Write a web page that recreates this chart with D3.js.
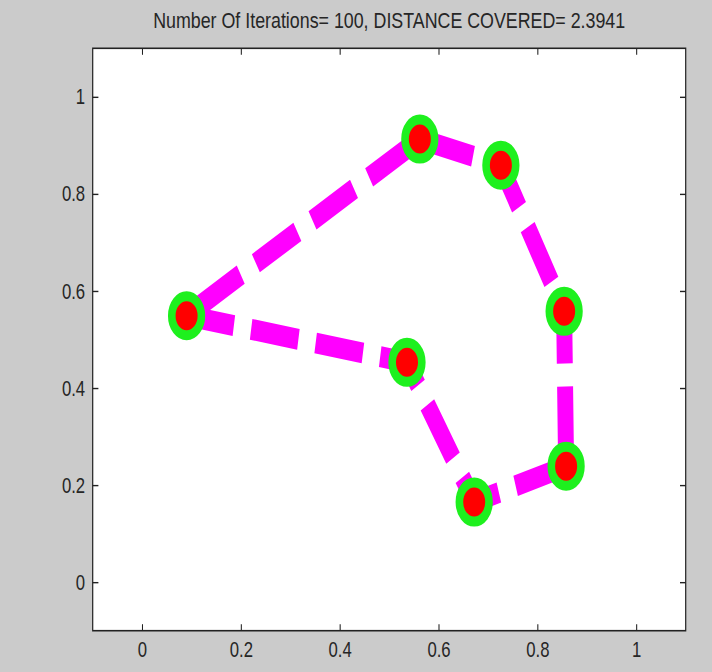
<!DOCTYPE html>
<html>
<head>
<meta charset="utf-8">
<script src="https://cdn.jsdelivr.net/npm/d3@7"></script>
<style>
	body { margin: 0; background: #cbcbcb; }
	svg  { display: block; }
</style>
</head>
<body>
<div id="tourDiv"></div>
<script>

// City coordinates:
var cityX     = [0.090, 0.562, 0.726, 0.854, 0.858, 0.672, 0.536];
var cityY     = [0.549, 0.913, 0.859, 0.558, 0.239, 0.165, 0.453];
// Order in which the tour visits the cities (closed loop):
var tourOrder = [0, 6, 5, 4, 3, 2, 1, 0];

var tickValues = [0, 0.2, 0.4, 0.6, 0.8, 1];
var axisDomain = [-0.1, 1.1];
var titleText  = "Number Of Iterations= 100, DISTANCE COVERED= 2.3941";

var TourViz = function(width, height) {

	// Constants

	// The whole figure looks squeezed horizontally,
	// so everything is drawn wide and then scaled in x:
	var SQUEEZE    = 0.76;
	// Axes box, in final page pixels:
	var BOX_LEFT   = 92.7;
	var BOX_RIGHT  = 685.7;
	var BOX_TOP    = 48.3;
	var BOX_BOTTOM = 630.7;

	var svg    = null;
	var plotG  = null;
	var xScale = null;
	var yScale = null;

	/*---------------------------
	| constructor
	-----------------*/

	var constructor = function() {

		svg = d3.select("#tourDiv").append("svg")
			.attr("width", width)
			.attr("height", height);

		svg.append("rect")
			.attr("width", width)
			.attr("height", height)
			.attr("fill", "#cbcbcb");

		plotG = svg.append("g")
			.attr("transform", `scale(${SQUEEZE},1)`);

		xScale = d3.scaleLinear()
			.domain(axisDomain)
			.range([BOX_LEFT / SQUEEZE, BOX_RIGHT / SQUEEZE]);
		yScale = d3.scaleLinear()
			.domain(axisDomain)
			.range([BOX_BOTTOM, BOX_TOP]);

		drawBox();
		drawAxes();
		drawTour();
		drawTitle();

		return {};
	}

	/*---------------------------
	| drawBox
	-----------------*/

	var drawBox = function() {
		plotG.append("rect")
			.attr("x", xScale(axisDomain[0]))
			.attr("y", yScale(axisDomain[1]))
			.attr("width", xScale(axisDomain[1]) - xScale(axisDomain[0]))
			.attr("height", yScale(axisDomain[0]) - yScale(axisDomain[1]))
			.attr("fill", "#ffffff");
	}

	/*---------------------------
	| drawAxes
	-----------------*/

	var drawAxes = function() {
		var fmt = d3.format("~g");

		var bottom = plotG.append("g")
			.attr("transform", `translate(0,${yScale(axisDomain[0])})`)
			.call(d3.axisBottom(xScale).tickValues(tickValues)
				.tickSizeInner(-6.5).tickSizeOuter(0).tickPadding(11).tickFormat(fmt));
		var top = plotG.append("g")
			.attr("transform", `translate(0,${yScale(axisDomain[1])})`)
			.call(d3.axisTop(xScale).tickValues(tickValues)
				.tickSizeInner(-6.5).tickSizeOuter(0).tickFormat(""));
		var left = plotG.append("g")
			.attr("transform", `translate(${xScale(axisDomain[0])},0)`)
			.call(d3.axisLeft(yScale).tickValues(tickValues)
				.tickSizeInner(-7.5).tickSizeOuter(0).tickPadding(10).tickFormat(fmt));
		var right = plotG.append("g")
			.attr("transform", `translate(${xScale(axisDomain[1])},0)`)
			.call(d3.axisRight(yScale).tickValues(tickValues)
				.tickSizeInner(-7.5).tickSizeOuter(0).tickFormat(""));

		[bottom, top, left, right].forEach(function(ax) {
			ax.select(".domain").remove();
			ax.selectAll(".tick line")
				.attr("stroke", "#222")
				.attr("stroke-width", 1.4);
			ax.selectAll(".tick text")
				.attr("fill", "#262626")
				.style("font-family", "'Liberation Sans', Arial, sans-serif")
				.style("font-size", "22px");
		});

		// Frame round the plot area:
		plotG.append("rect")
			.attr("x", xScale(axisDomain[0]))
			.attr("y", yScale(axisDomain[1]))
			.attr("width", xScale(axisDomain[1]) - xScale(axisDomain[0]))
			.attr("height", yScale(axisDomain[0]) - yScale(axisDomain[1]))
			.attr("fill", "none")
			.attr("stroke", "#222")
			.attr("stroke-width", 1.6);
	}

	/*---------------------------
	| drawTour
	-----------------*/

	var drawTour = function() {
		var line = d3.line()
			.x(function(i) { return xScale(cityX[i]); })
			.y(function(i) { return yScale(cityY[i]); });

		plotG.append("path")
			.datum(tourOrder)
			.attr("d", line)
			.attr("fill", "none")
			.attr("stroke", "#ff00ff")
			.attr("stroke-width", 21)
			.attr("stroke-dasharray", "63,23")
			.attr("stroke-linecap", "butt");

		plotG.selectAll(".city")
			.data(d3.range(cityX.length))
			.join("circle")
			  .attr("class", "city")
			  .attr("cx", function(i) { return xScale(cityX[i]); })
			  .attr("cy", function(i) { return yScale(cityY[i]); })
			  .attr("r", 19.5)
			  .attr("fill", "#ff0000")
			  .attr("stroke", "#1ef01e")
			  .attr("stroke-width", 10);
	}

	/*---------------------------
	| drawTitle
	-----------------*/

	var drawTitle = function() {
		plotG.append("text")
			.attr("x", (xScale(axisDomain[0]) + xScale(axisDomain[1])) / 2)
			.attr("y", 28)
			.attr("text-anchor", "middle")
			.attr("textLength", 472 / SQUEEZE)
			.attr("lengthAdjust", "spacingAndGlyphs")
			.attr("fill", "#262626")
			.style("font-family", "'Liberation Sans', Arial, sans-serif")
			.style("font-size", "22px")
			.text(titleText);
	}

	return constructor();
}

var tourViz = TourViz(712, 672);

</script>
</body>
</html>
